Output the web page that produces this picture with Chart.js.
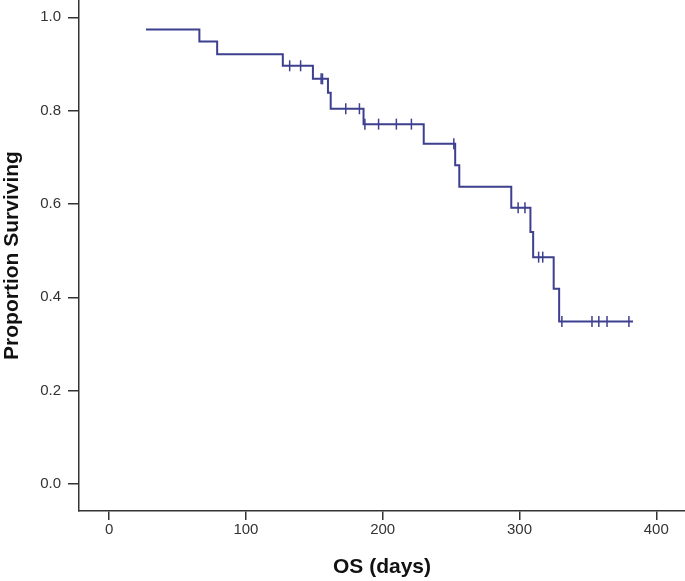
<!DOCTYPE html>
<html>
<head>
<meta charset="utf-8">
<script src="https://cdn.jsdelivr.net/npm/chart.js@4/dist/chart.umd.min.js"></script>
<style>
  html, body { margin: 0; padding: 0; background: #fff; }
  #wrap { width: 685px; height: 581px; }
</style>
</head>
<body>
<div id="wrap"><canvas id="km"></canvas></div>
<script>
// Kaplan-Meier steps: time (days) and survival after the drop
const eventDays = [27, 66, 79, 127, 149, 160, 162, 186, 230, 253, 256, 294, 308, 310, 325, 329, 383]
const eventSurv = [0.974, 0.948, 0.921, 0.896, 0.868, 0.838, 0.804, 0.771, 0.729, 0.683, 0.637, 0.592, 0.540, 0.486, 0.418, 0.348, 0.348]

// censored cases (tick marks)
const censorDays = [132, 140, 155, 156, 173, 183, 187, 197, 210, 221, 252, 299, 304, 314, 317, 331, 353, 358, 364, 380]
const censorSurv = [0.896, 0.896, 0.868, 0.868, 0.804, 0.804, 0.771, 0.771, 0.771, 0.771, 0.729, 0.592, 0.592, 0.486, 0.486, 0.348, 0.348, 0.348, 0.348, 0.348]

const xTicks = [0, 100, 200, 300, 400]
const yTicks = [0, 0.2, 0.4, 0.6, 0.8, 1.0]

const lineColor = '#3d3f8f'
const axisColor = '#333333'

const curve = eventDays.map((d, i) => ({ x: d, y: eventSurv[i] }))
const censored = censorDays.map((d, i) => ({ x: d, y: censorSurv[i] }))

new Chart(document.getElementById('km'), {
  type: 'scatter',
  data: {
    datasets: [
      {
        data: curve,
        showLine: true,
        stepped: true,
        borderColor: lineColor,
        borderWidth: 2,
        pointRadius: 0,
        fill: false,
      },
      {
        data: censored,
        showLine: false,
        pointStyle: 'line',
        rotation: 90,
        pointRadius: 5.5,
        borderColor: lineColor,
        borderWidth: 1.5,
      },
    ],
  },
  options: {
    responsive: true,
    maintainAspectRatio: false,
    animation: false,
    layout: { padding: 0, autoPadding: false },
    plugins: { legend: { display: false }, tooltip: { enabled: false } },
    scales: {
      x: {
        type: 'linear',
        min: -22,
        max: 421,
        afterBuildTicks: s => { s.ticks = xTicks.map(v => ({ value: v })) },
        afterFit: s => {
          s.height = 70
          s.paddingLeft = 0
          s.paddingRight = 0
        },
        border: { display: true, color: axisColor, width: 1.5 },
        grid: { display: true, drawOnChartArea: false, drawTicks: true, tickLength: 9, color: axisColor, lineWidth: 1.5 },
        ticks: {
          color: axisColor,
          padding: 1,
          maxRotation: 0,
          font: { family: 'Liberation Sans', size: 15 },
        },
        title: {
          display: true,
          text: 'OS (days)',
          color: '#111',
          padding: { top: 0, bottom: 1 },
          font: { family: 'Liberation Sans', size: 21, weight: 'bold' },
        },
      },
      y: {
        type: 'linear',
        min: -0.058,
        max: 1.037,
        afterBuildTicks: s => { s.ticks = yTicks.map(v => ({ value: v })) },
        afterFit: s => {
          s.width = 79
          s.paddingTop = 0
          s.paddingBottom = 0
        },
        border: { display: true, color: axisColor, width: 1.5 },
        grid: { display: true, drawOnChartArea: false, drawTicks: true, tickLength: 11, color: axisColor, lineWidth: 1.5 },
        ticks: {
          color: axisColor,
          padding: 7,
          font: { family: 'Liberation Sans', size: 15 },
          callback: v => v.toFixed(1),
        },
        title: {
          display: true,
          text: 'Proportion Surviving',
          color: '#111',
          padding: { top: 0, bottom: 0 },
          font: { family: 'Liberation Sans', size: 21, weight: 'bold' },
        },
      },
    },
  },
})
</script>
</body>
</html>
